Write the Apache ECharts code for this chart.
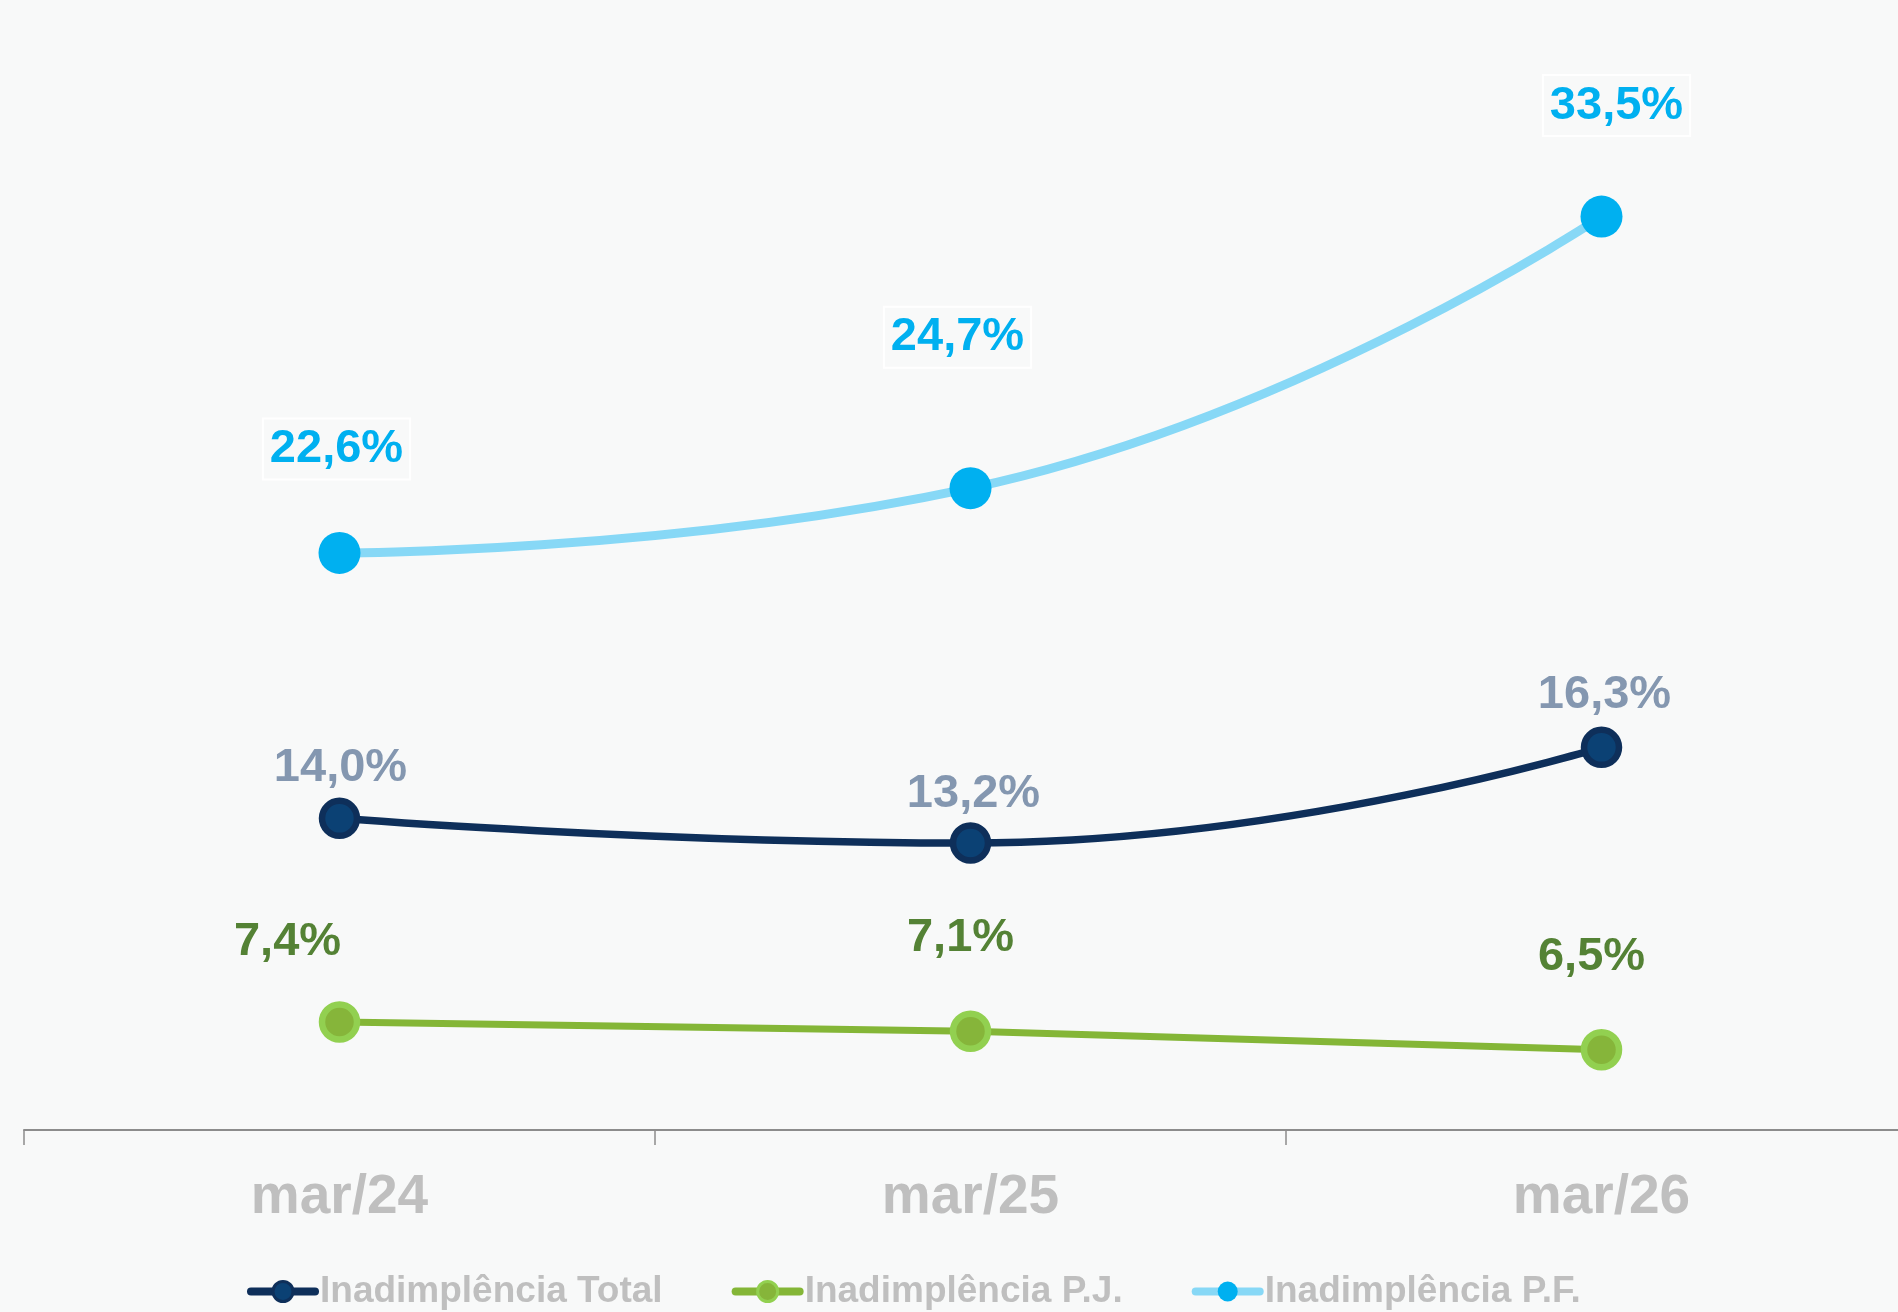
<!DOCTYPE html>
<html>
<head>
<meta charset="utf-8">
<script src="https://cdn.jsdelivr.net/npm/echarts@6/dist/echarts.min.js"></script>
<style>
  html, body { margin: 0; padding: 0; background: #f8f9f9; }
  #chart { width: 1898px; height: 1312px; }
</style>
</head>
<body>
<div id="chart"></div>
<script>
// ---- data ----
const categories = ['mar/24', 'mar/25', 'mar/26'];
const seriesNames = ['Inadimplência Total', 'Inadimplência P.J.', 'Inadimplência P.F.'];
const totalValues = [14.0, 13.2, 16.3];
const pjValues = [7.4, 7.1, 6.5];
const pfValues = [22.6, 24.7, 33.5];

// ---- label placement (layout only) ----
const totalLabelOffsets = [[1, -50], [3, -49], [3, -52]];
const pjLabelOffsets = [[-52, -80], [-10, -93], [-10, -93]];
const pfLabelOffsets = [[-3, -104], [-13, -151], [15, -111]];

const FONT = '"Liberation Sans", Arial, sans-serif';
const fmt = v => v.toFixed(1).replace('.', ',') + '%';

function buildData(values, offsets) {
  return values.map((v, i) => ({ value: v, label: { offset: offsets[i] } }));
}

const chart = echarts.init(document.getElementById('chart'), null, { renderer: 'canvas' });

const option = {
  backgroundColor: '#f8f9f9',
  animation: false,
  grid: { left: 24, width: 1893, top: 16, bottom: 182, containLabel: false, outerBoundsMode: 'none' },
  xAxis: {
    type: 'category',
    data: categories,
    boundaryGap: true,
    axisLine: { show: true, lineStyle: { color: '#8c8c8c', width: 2 } },
    axisTick: { show: true, length: 15, lineStyle: { color: '#8c8c8c', width: 1.5 } },
    axisLabel: { color: '#bfbfbf', fontSize: 55, fontWeight: 'bold', fontFamily: FONT, margin: 40 },
    splitLine: { show: false }
  },
  yAxis: {
    type: 'value',
    min: 3.9,
    max: 40,
    show: false,
    splitLine: { show: false }
  },
  legend: {
    left: 247,
    top: 1273,
    padding: 0,
    itemWidth: 64,
    itemHeight: 25,
    itemGap: 69,
    textStyle: { color: '#bfbfbf', fontSize: 37, fontWeight: 'bold', fontFamily: FONT },
    data: [
      { name: seriesNames[0], lineStyle: { width: 8, cap: 'round', color: '#0e2f5a' }, itemStyle: { color: '#0b4174', borderColor: '#0e2f5a', borderWidth: 3 } },
      { name: seriesNames[1], lineStyle: { width: 8, cap: 'round', color: '#84b637' }, itemStyle: { color: '#86b53a', borderColor: '#92d050', borderWidth: 3 } },
      { name: seriesNames[2], lineStyle: { width: 8, cap: 'round', color: '#87d8f6' }, itemStyle: { color: '#00b0f0', borderColor: '#00b0f0', borderWidth: 0 } }
    ]
  },
  series: [
    {
      name: seriesNames[0],
      type: 'line',
      data: buildData(totalValues, totalLabelOffsets),
      smooth: 0.5,
      symbol: 'circle',
      symbolSize: 35,
      lineStyle: { color: '#0e2f5a', width: 7.5 },
      itemStyle: { color: '#0b4174', borderColor: '#0e2f5a', borderWidth: 6.5 },
      label: {
        show: true, position: 'inside', formatter: p => fmt(p.value),
        color: '#8497b0', fontSize: 47, fontWeight: 'bold', fontFamily: FONT
      },
      z: 3
    },
    {
      name: seriesNames[1],
      type: 'line',
      data: buildData(pjValues, pjLabelOffsets),
      smooth: false,
      symbol: 'circle',
      symbolSize: 35,
      lineStyle: { color: '#84b637', width: 7 },
      itemStyle: { color: '#86b53a', borderColor: '#92d050', borderWidth: 6.5 },
      label: {
        show: true, position: 'inside', formatter: p => fmt(p.value),
        color: '#548235', fontSize: 47, fontWeight: 'bold', fontFamily: FONT
      },
      z: 3
    },
    {
      name: seriesNames[2],
      type: 'line',
      data: buildData(pfValues, pfLabelOffsets),
      smooth: 0.5,
      symbol: 'circle',
      symbolSize: 42,
      lineStyle: { color: '#87d8f6', width: 9 },
      itemStyle: { color: '#00b0f0', borderWidth: 0 },
      label: {
        show: true, position: 'inside', formatter: p => fmt(p.value),
        color: '#00b0f0', fontSize: 47, fontWeight: 'bold', fontFamily: FONT,
        borderColor: '#ffffff', borderWidth: 2, padding: [7, 7, 7, 7]
      },
      z: 3
    }
  ]
};

chart.setOption(option);
</script>
</body>
</html>
